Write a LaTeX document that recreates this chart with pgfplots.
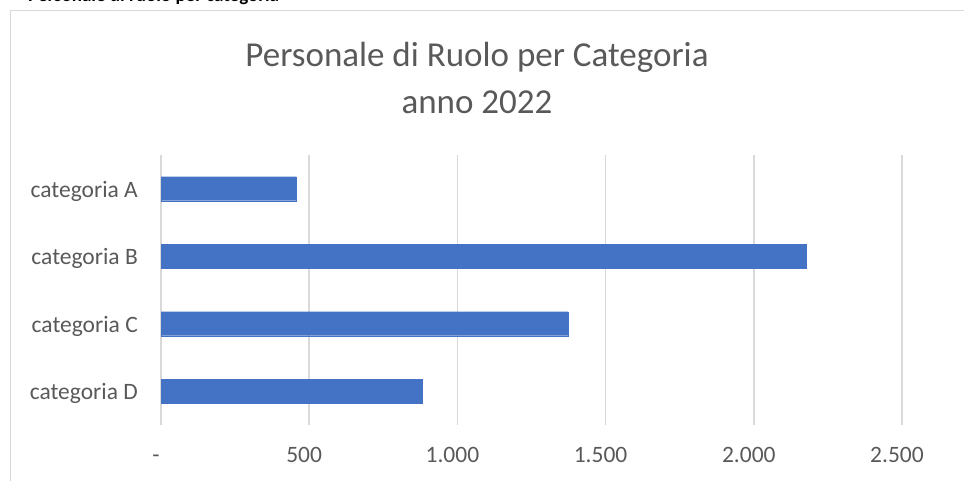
\documentclass[border=0pt]{standalone}
\usepackage{pgfplots}
\pgfplotsset{compat=1.18}
\usepackage{fontspec}
\setmainfont{Carlito}
\definecolor{barblue}{HTML}{4472C4}
\definecolor{gridgray}{HTML}{D9D9D9}
\definecolor{txtgray}{HTML}{595959}
\begin{document}
\begin{tikzpicture}[x=1pt,y=1pt]
\path[use as bounding box] (0,0) rectangle (964,481);
\begin{scope}
\clip (0,0) rectangle (964,481);
\node[anchor=base west, font=\bfseries\fontsize{19}{22}\selectfont, inner sep=0] at (28,479.5) {Personale di ruolo per categoria};
\end{scope}
\draw[gridgray, line width=1.2pt] (10.5,0) -- (10.5,470.5) -- (964,470.5);
\node[anchor=base, text=txtgray, font=\fontsize{35}{42}\selectfont, inner sep=0] at (477,414) {Personale di Ruolo per Categoria};
\node[anchor=base, text=txtgray, font=\fontsize{35}{42}\selectfont, inner sep=0] at (477,367) {anno 2022};
\begin{axis}[
  at={(161pt,56pt)}, anchor=south west,
  scale only axis, width=741pt, height=270pt,
  xbar, bar width=24pt,
  xmin=0, xmax=2500, ymin=-0.5, ymax=3.5,
  xtick={0,500,1000,1500,2000,2500},
  xticklabels={{-\hspace{12pt}},500,1.000,1.500,2.000,2.500},
  ytick={0,1,2,3},
  yticklabels={categoria D,categoria C,categoria B,categoria A},
  xmajorgrids, major grid style={gridgray, line width=1.5pt},
  axis line style={draw=none},
  major tick length=0pt,
  /pgf/number format/assume math mode=true,
  ticklabel style={text=txtgray, font=\fontsize{23.5}{28}\selectfont, inner sep=0pt},
  xticklabel style={anchor=base, yshift=-38pt, xshift=-5pt},
  yticklabel style={anchor=base east, xshift=-23pt, yshift=-8.7pt},
  clip=false,
]
\addplot[draw=barblue, fill=barblue] coordinates {(882,0) (1373,1) (2177,2) (457,3)};
\end{axis}
\end{tikzpicture}
\end{document}
